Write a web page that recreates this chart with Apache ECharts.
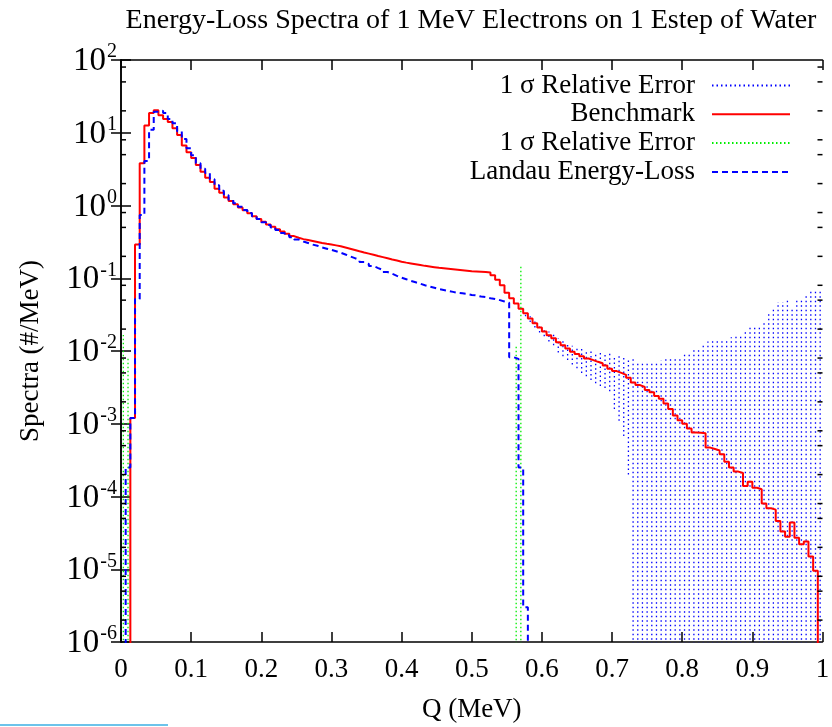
<!DOCTYPE html>
<html><head><meta charset="utf-8">
<script src="https://cdn.jsdelivr.net/npm/echarts@6/dist/echarts.min.js"></script>
<style>html,body{margin:0;padding:0;background:#fff;}#c{width:832px;height:727px;}</style>
</head><body><div id="c"></div>
<script>
// ---------------- data ----------------
const binWidth = 1 / 150;            // histogram bin width (MeV)
const titleText = 'Energy-Loss Spectra of 1 MeV Electrons on 1 Estep of Water';
const xTickLabels = ['0','0.1','0.2','0.3','0.4','0.5','0.6','0.7','0.8','0.9','1'];
const yDecades = [-6,-5,-4,-3,-2,-1,0,1,2];
const yMinorMultipliers = [2,5,8];

// Benchmark spectrum, one value per bin (null = empty bin)
const benchmark = [
  null,null,0.0012,0.29,3.8,12.6,18.7,20.4,17.4,15.4,
  14.0,11.5,9.3,6.7,5.4,4.5,3.6,2.9,2.4,2.1,
  1.7,1.5,1.29,1.15,1.04,0.94,0.86,0.78,0.71,0.65,
  0.60,0.55,0.51,0.47,0.44,0.41,0.38,0.36,0.345,0.335,
  0.325,0.315,0.305,0.297,0.29,0.283,0.275,0.265,0.255,0.245,
  0.235,0.226,0.218,0.210,0.202,0.195,0.188,0.181,0.175,0.169,
  0.164,0.160,0.156,0.152,0.148,0.145,0.142,0.139,0.137,0.135,
  0.133,0.131,0.129,0.127,0.125,0.124,0.123,0.122,0.120,0.110,
  0.095,0.080,0.063,0.053,0.045,0.038,0.033,0.028,0.024,0.021,
  0.0185,0.0165,0.0150,0.0132,0.0120,0.0108,0.0098,0.0091,0.0085,0.0079,
  0.0075,0.0071,0.0068,0.0063,0.0057,0.0053,0.0050,0.0047,0.0043,0.0037,
  0.0034,0.0032,0.0029,0.0027,0.0024,0.0022,0.0019,0.0016,0.0013,0.00112,
  0.00100,0.00086,0.00076,0.00075,0.00074,0.00047,0.00045,0.00043,0.00038,0.00030,
  0.00025,0.00022,0.00021,0.000139,0.000160,0.000132,0.000126,0.000080,0.000069,0.000066,
  0.000046,0.000033,0.000028,0.000044,0.000027,0.000022,0.000024,0.000015,0.0000095,null
];

// Landau energy-loss spectrum, one value per bin
const landau = [
  null,0.00025,0.0012,0.052,0.74,4.1,11,19.5,20,18.7,
  15.5,13.5,10.5,8.2,6.1,4.9,3.8,3.2,2.8,2.3,
  1.9,1.6,1.38,1.2,1.07,0.96,0.87,0.79,0.71,0.65,
  0.59,0.54,0.50,0.46,0.42,0.39,0.365,0.34,0.32,0.305,
  0.29,0.28,0.265,0.255,0.245,0.235,0.224,0.212,0.200,0.189,
  0.178,0.167,0.157,0.147,0.138,0.130,0.122,0.115,0.108,0.102,
  0.097,0.092,0.088,0.084,0.080,0.077,0.074,0.071,0.069,0.067,
  0.065,0.063,0.062,0.061,0.059,0.058,0.056,0.055,0.053,0.052,
  0.050,0.048,0.046,0.0082,0.0078,0.00025,0.000003,null
];

// Benchmark 1-sigma band (bins from benchErrStart on)
const benchErrStart = 86;
const benchErrHi = [
  0.034,0.030,0.026,0.023,0.020,0.0185,0.017,0.0148,0.0138,0.0125,
  0.0118,0.0112,0.0108,0.0105,0.0100,0.0098,0.0096,0.0096,0.0092,0.0087,
  0.0088,0.0081,0.0078,0.0080,0.0071,0.0071,0.0070,0.0071,0.0070,0.0074,
  0.0078,0.0077,0.0078,0.0081,0.0096,0.0098,0.0107,0.0107,0.0118,0.0135,
  0.0138,0.0138,0.0147,0.0150,0.0155,0.0163,0.0160,0.0183,0.0215,0.0215,
  0.021,0.0264,0.032,0.038,0.047,0.047,0.050,0.038,0.050,0.051,
  0.062,0.068,0.068,0.072
];
const benchErrLo = [
  0.030,0.025,0.021,0.018,0.016,0.0135,0.012,0.0095,0.0085,0.0075,
  0.0065,0.0058,0.0050,0.0045,0.0040,0.0036,0.0033,0.0031,0.0028,0.0016,
  0.0011,0.00068,0.0002,null,null,null,null,null,null,null,
  null,null,null,null,null,null,null,null,null,null,
  null,null,null,null,null,null,null,null,null,null,
  null,null,null,null,null,null,null,null,null,null,
  null,null,null,null
];

// Landau 1-sigma error bars that are visible
const landauErrBins = [0, 1, 84, 85];
const landauErrLo = [null, null, null, null];
const landauErrHi = [0.0166, 0.0083, 0.012, 0.148];

// ---------------- build ----------------
const FLOOR = 1e-9;   // stand-in for "empty" on the log axis (clipped away)
const FONT = 'Liberation Serif';

function stepData(vals) {
  const d = vals.map((v, k) => [k * binWidth, v == null ? FLOOR : v]);
  const last = vals[vals.length - 1];
  d.push([vals.length * binWidth, last == null ? FLOOR : last]);
  return d;
}
function errData(bins, lo, hi) {
  const d = [];
  bins.forEach((k, i) => {
    const x = (k + 0.5) * binWidth;
    d.push([x, lo[i] == null ? FLOOR : lo[i]]);
    d.push([x, hi[i]]);
    d.push([x, '-']);
  });
  return d;
}
const benchBins = benchErrHi.map((_, i) => benchErrStart + i);
const minorTicks = [];
yDecades.slice(0, -1).forEach(e => yMinorMultipliers.forEach(m => minorTicks.push([0, m * Math.pow(10, e)])));

const NAME_ERR1 = '1 σ Relative Error';
const NAME_ERR2 = '1 σ Relative Error\u200b';

const chart = echarts.init(document.getElementById('c'), null, {renderer: 'canvas'});
const axisLine = {show: true, lineStyle: {color: '#000', width: 1.5}};
chart.setOption({
  animation: false,
  backgroundColor: '#fff',
  title: {
    text: titleText, left: 466, top: 2, textAlign: 'center',
    textStyle: {fontFamily: FONT, fontSize: 28, fontWeight: 'normal', color: '#000'}
  },
  grid: {left: 121, right: 9.5, top: 60, bottom: 85, containLabel: false, outerBoundsMode: 'none'},
  legend: {
    data: [NAME_ERR1, 'Benchmark', NAME_ERR2, 'Landau Energy-Loss'],
    orient: 'vertical', align: 'right', right: 36, top: 67,
    itemWidth: 78, itemHeight: 14, itemGap: 1.8, selectedMode: false,
    itemStyle: {opacity: 0},
    textStyle: {fontFamily: FONT, fontSize: 27, color: '#000', padding: [0, 12, 0, 0]}
  },
  xAxis: [{
    type: 'value', min: 0, max: 1, interval: 0.1, position: 'bottom',
    axisLine, splitLine: {show: false},
    axisTick: {show: true, inside: true, length: 10, lineStyle: {color: '#000', width: 1.5}},
    axisLabel: {fontFamily: FONT, fontSize: 27, color: '#000', margin: 14,
      formatter: v => xTickLabels[Math.round(v * 10)]},
    name: 'Q (MeV)', nameLocation: 'middle', nameGap: 54,
    nameTextStyle: {fontFamily: FONT, fontSize: 27, color: '#000'}
  }, {
    type: 'value', min: 0, max: 1, interval: 0.1, position: 'top',
    axisLine, splitLine: {show: false}, axisLabel: {show: false},
    axisTick: {show: true, inside: true, length: 10, lineStyle: {color: '#000', width: 1.5}}
  }],
  yAxis: [{
    type: 'log', logBase: 10, min: 1e-6, max: 100, position: 'left',
    axisLine, splitLine: {show: false}, minorTick: {show: false},
    axisTick: {show: true, inside: true, length: 10, lineStyle: {color: '#000', width: 1.5}},
    axisLabel: {
      margin: 4, color: '#000',
      formatter: v => '{b|10}{e|' + Math.round(Math.log10(v)) + '}',
      rich: {
        b: {fontFamily: FONT, fontSize: 33, color: '#000', lineHeight: 36, verticalAlign: 'bottom', padding: [8, 0, 0, 0]},
        e: {fontFamily: FONT, fontSize: 20, color: '#000', lineHeight: 36, verticalAlign: 'top', padding: [0, 0, 0, 1]}
      }
    },
    name: 'Spectra (#/MeV)', nameLocation: 'middle', nameGap: 77, nameRotate: 90,
    nameTextStyle: {fontFamily: FONT, fontSize: 27, color: '#000'}
  }, {
    type: 'log', logBase: 10, min: 1e-6, max: 100, position: 'right',
    axisLine, splitLine: {show: false}, axisLabel: {show: false},
    axisTick: {show: true, inside: true, length: 10, lineStyle: {color: '#000', width: 1.5}}
  }],
  series: [
    {
      name: NAME_ERR1, type: 'line', data: errData(benchBins, benchErrLo, benchErrHi),
      symbol: 'none', connectNulls: false, clip: true, z: 2,
      lineStyle: {color: '#0000ff', width: 1.3, type: [1.5, 3]}, itemStyle: {color: '#0000ff'}
    },
    {
      name: 'Benchmark', type: 'line', step: 'end', data: stepData(benchmark),
      symbol: 'none', clip: true, z: 3,
      lineStyle: {color: '#ff0000', width: 2}, itemStyle: {color: '#ff0000'}
    },
    {
      name: NAME_ERR2, type: 'line', data: errData(landauErrBins, landauErrLo, landauErrHi),
      symbol: 'none', connectNulls: false, clip: true, z: 4,
      lineStyle: {color: '#00ee00', width: 1.3, type: [1.5, 2.5]}, itemStyle: {color: '#00ee00'}
    },
    {
      name: 'Landau Energy-Loss', type: 'line', step: 'end', data: stepData(landau),
      symbol: 'none', clip: true, z: 5,
      lineStyle: {color: '#0000ff', width: 2, type: [6, 4]}, itemStyle: {color: '#0000ff'}
    },
    {
      name: 'minor ticks', type: 'custom', data: minorTicks, silent: true, clip: false, z: 6,
      renderItem: (params, api) => {
        const y = api.coord([0, api.value(1)])[1];
        const cs = params.coordSys;
        return {type: 'group', children: [
          {type: 'line', shape: {x1: cs.x, y1: y, x2: cs.x + 5, y2: y}, style: {stroke: '#000', lineWidth: 1.5}},
          {type: 'line', shape: {x1: cs.x + cs.width - 5, y1: y, x2: cs.x + cs.width, y2: y}, style: {stroke: '#000', lineWidth: 1.5}}
        ]};
      }
    }
  ],
  graphic: [{type: 'rect', shape: {x: 0, y: 724, width: 168, height: 2}, style: {fill: '#6cc3ea'}}]
});
</script>
</body></html>
